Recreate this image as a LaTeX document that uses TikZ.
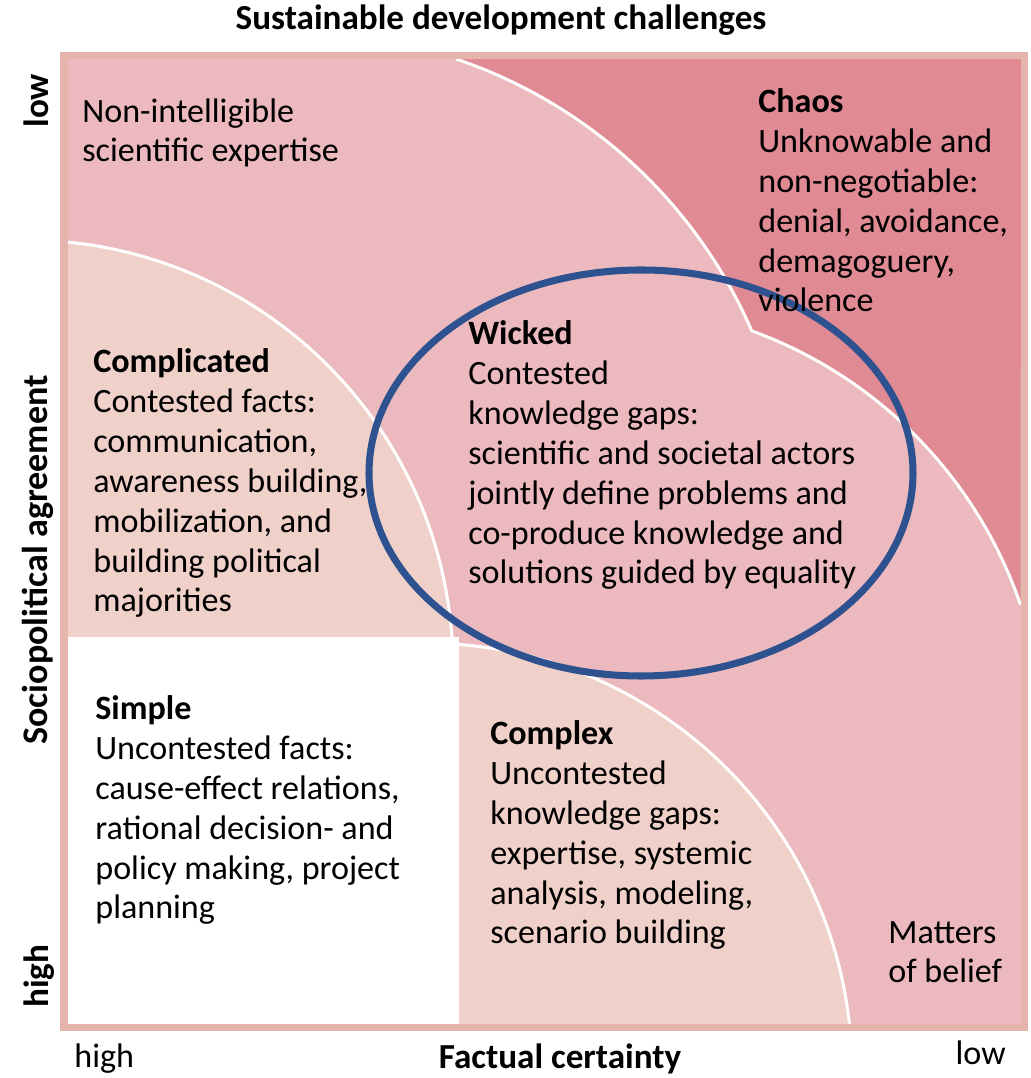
\documentclass[tikz,border=0pt]{standalone}
\usepackage{fontspec}
\setmainfont{Carlito}

\definecolor{framecol}{RGB}{229,180,170}
\definecolor{wickedpink}{RGB}{236,186,190}
\definecolor{chaospink}{RGB}{224,138,148}
\definecolor{peach}{RGB}{240,209,201}
\definecolor{ringblue}{RGB}{46,82,143}

\tikzset{
  txt/.style={font=\fontsize{19.4}{22.7}\selectfont, align=left, inner sep=0pt, anchor=base west},
  axislab/.style={font=\fontsize{19.4}{22.7}\selectfont, inner sep=0pt},
  boldlab/.style={axislab, font=\fontsize{20}{24}\selectfont\bfseries},
  sep/.style={white, line width=1.7pt},
}

\begin{document}
\begin{tikzpicture}[x=0.2mm,y=0.2mm]
        \useasboundingbox (0,0) rectangle (1030,1078);
        \fill[wickedpink] (67,54) rectangle (1021,1019);

        % chaos corner, two arcs with a notch
        \fill[chaospink] (456,1019) arc[start angle=71.35,end angle=23.47,radius=495]
            arc[start angle=70,end angle=18.9,radius=445] -- (1021,1019) -- cycle;
        \draw[sep] (456,1019) arc[start angle=71.35,end angle=23.47,radius=495]
            arc[start angle=70,end angle=18.9,radius=445];

        \fill[white] (67,54) rectangle (459,441);
        \begin{scope}
            \clip (67,441) rectangle (459,1019);
            \fill[peach] (25,410) circle [radius=428];
            \draw[sep] (25,410) circle [radius=428];
        \end{scope}
        \begin{scope}
            \clip (459,54) rectangle (1021,441);
            \fill[peach] (424,7) circle [radius=428];
            \draw[sep] (424,7) circle [radius=428];
        \end{scope}
        \draw[framecol,line width=4pt] (64,50.5) rectangle (1024.5,1022.5);

        \draw[ringblue,line width=4pt] (641,605) ellipse [x radius=272,y radius=203];

        % base of a txt node = baseline of its last line
        \node[txt] (nonint) at (82,916) {Non-intelligible\\scientific expertise};
        \node[txt] (chaos) at (758,766) {\textbf{Chaos}\\Unknowable and\\non-negotiable:\\denial, avoidance,\\demagoguery,\\violence};
        \node[txt] (wicked) at (468,494) {\textbf{Wicked}\\Contested\\knowledge gaps:\\scientific and societal actors\\jointly define problems and\\co-produce knowledge and\\solutions guided by equality};
        \node[txt] (complicated) at (93,466) {\textbf{Complicated}\\Contested facts:\\communication,\\awareness building,\\mobilization, and\\building political\\majorities};
        \node[txt] (simple) at (95,159) {\textbf{Simple}\\Uncontested facts:\\cause-effect relations,\\rational decision- and\\policy making, project\\planning};
        \node[txt] (complex) at (490,134) {\textbf{Complex}\\Uncontested\\knowledge gaps:\\expertise, systemic\\analysis, modeling,\\scenario building};
        \node[txt] (belief) at (888,95) {Matters\\of belief};

        % axes
        \node[boldlab,anchor=base] (title) at (501,1048) {Sustainable development challenges};
        \node[boldlab,anchor=base] (xaxis) at (560,10) {Factual certainty};
        \node[axislab,anchor=base west] (xhigh) at (74,11) {high};
        \node[axislab,anchor=base east] (xlow) at (1006,13) {low};
        \node[boldlab,anchor=base,rotate=90,font=\fontsize{20.5}{24}\selectfont\bfseries] (yaxis) at (47,518) {Sociopolitical agreement};
        \node[boldlab,anchor=base west,rotate=90] (ylow) at (48,950) {low};
        \node[boldlab,anchor=base west,rotate=90] (yhigh) at (48,70) {high};
\end{tikzpicture}
\end{document}
